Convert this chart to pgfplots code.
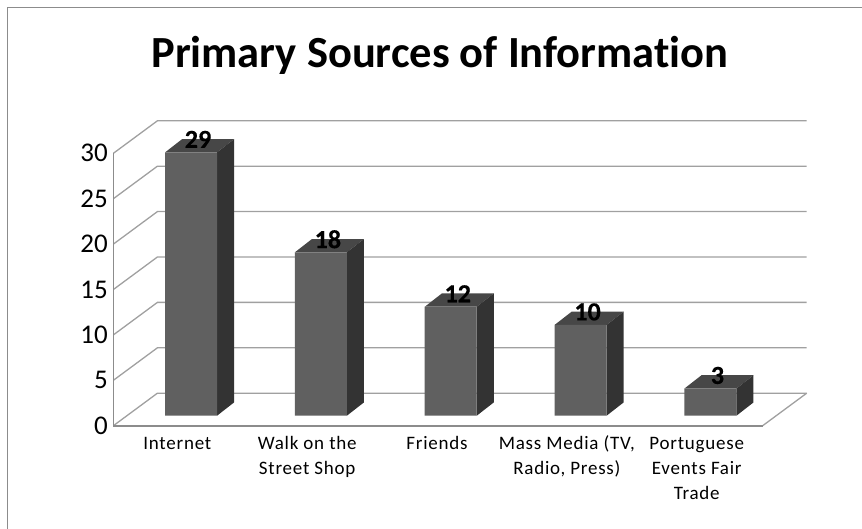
\documentclass[border=0pt]{standalone}
\usepackage{pgfplots}
\usepackage{pgfplotstable}
\pgfplotsset{compat=1.18}
\usepackage{fontspec}
\setmainfont{Carlito}[Ligatures=NoCommon]
\newfontfamily\valuefont{Carlito Bold}[FakeBold=0.5]
\newfontfamily\categoryfont{Carlito}[Ligatures=NoCommon,LetterSpace=4]
\definecolor{barfront}{HTML}{606060}
\definecolor{bartop}{HTML}{474747}
\definecolor{barside}{HTML}{333333}
\definecolor{gridgray}{HTML}{A0A0A0}
\definecolor{axisgray}{HTML}{8C8C8C}
\definecolor{framegray}{HTML}{8C8C8C}

% sources and number of mentions
\pgfplotstableread{
pos count
0 29
1 18
2 12
3 10
4 3
}\sourcedata

% Depth of the wall and of one bar, in data units of each axis
\newcommand{\walldx}{0.339}
\newcommand{\walldy}{3.58}
\newcommand{\bardx}{0.131}
\newcommand{\bardy}{1.46}
\newcommand{\barlift}{1.10}
\newcommand{\barshift}{0.098}
\newcommand{\barhalf}{0.2}

% Grid line that runs along the side wall and the back wall
\newcommand{\wallline}[1]{%
  \pgfmathsetmacro{\ya}{#1+\walldy}%
  \addplot[gridgray, line width=1.3pt, forget plot] coordinates {(-0.5,#1) (-0.161,\ya) (4.839,\ya)};%
}

% Top and side faces of a bar at position #1 with height #2
\newcommand{\barfaces}[2]{%
  \pgfmathsetmacro{\xl}{#1+\barshift-\barhalf}%
  \pgfmathsetmacro{\xr}{#1+\barshift+\barhalf}%
  \pgfmathsetmacro{\xlb}{\xl+\bardx}%
  \pgfmathsetmacro{\xrb}{\xr+\bardx}%
  \pgfmathsetmacro{\yb}{\barlift}%
  \pgfmathsetmacro{\ybb}{\barlift+\bardy}%
  \pgfmathsetmacro{\yt}{#2+\barlift}%
  \pgfmathsetmacro{\ytb}{#2+\barlift+\bardy}%
  \addplot[fill=bartop, draw=none, forget plot] coordinates {(\xl,\yt) (\xr,\yt) (\xrb,\ytb) (\xlb,\ytb)} -- cycle;%
  \addplot[fill=barside, draw=none, forget plot] coordinates {(\xr,\yb) (\xrb,\ybb) (\xrb,\ytb) (\xr,\yt)} -- cycle;%
}

\begin{document}
\begin{tikzpicture}[x=1pt,y=1pt]
  \path[use as bounding box] (0,0) rectangle (862,529);
  % chart frame, open at the right and at the bottom of the page
  \draw[framegray, line width=1.5pt] (7.5,0) -- (7.5,521.5) -- (862,521.5);
  \node[font=\bfseries\fontsize{44.5}{52}\selectfont, anchor=base] at (440,461) {Primary Sources of Information};
  \begin{axis}[
    at={(113.4pt,103.3pt)}, anchor=south west,
    scale only axis, width=693.3pt, height=305pt,
    clip=false,
    xmin=-0.5, xmax=4.839, ymin=0, ymax=33.59,
    axis line style={draw=none},
    tick style={draw=none},
    xtick={0,1,2,3,4},
    xticklabels={\strut Internet,{\strut Walk on the\\Street Shop},\strut Friends,{\strut Mass Media (TV,\\Radio, Press)},{\strut Portuguese\\Events Fair\\Trade}},
    xticklabel style={font=\categoryfont\fontsize{19}{25}\selectfont, align=center, anchor=north},
    ytick={0,5,...,30},
    yticklabel style={font=\fontsize{27}{30}\selectfont, xshift=-2pt},
    /pgf/number format/assume math mode=true,
    every x tick label/.append style={yshift=-2.7pt, xshift=-1pt},
  ]
    % floor and walls
    \addplot[gridgray, line width=1.3pt, forget plot] coordinates {(4.5,0) (4.839,3.58)};
    \wallline{0}\wallline{5}\wallline{10}\wallline{15}\wallline{20}\wallline{25}\wallline{30}
    \addplot[axisgray, line width=1.3pt, forget plot] coordinates {(-0.5,30) (-0.5,0)};
    \addplot[axisgray, line width=2pt, forget plot] coordinates {(-0.5,0) (4.5,0)};
    % bars: depth faces first, then the front faces with their labels
    \barfaces{0}{29}\barfaces{1}{18}\barfaces{2}{12}\barfaces{3}{10}\barfaces{4}{3}
    \addplot[ybar, bar width=52pt, bar shift=0pt, fill=barfront, draw=none,
      xshift=12.7pt, yshift=10pt,
      nodes near coords, every node near coord/.append style={font=\valuefont\fontsize{26}{28}\selectfont, black, anchor=center, yshift=13pt, xshift=7pt}]
      table[x=pos,y=count] {\sourcedata};
  \end{axis}
\end{tikzpicture}
\end{document}
